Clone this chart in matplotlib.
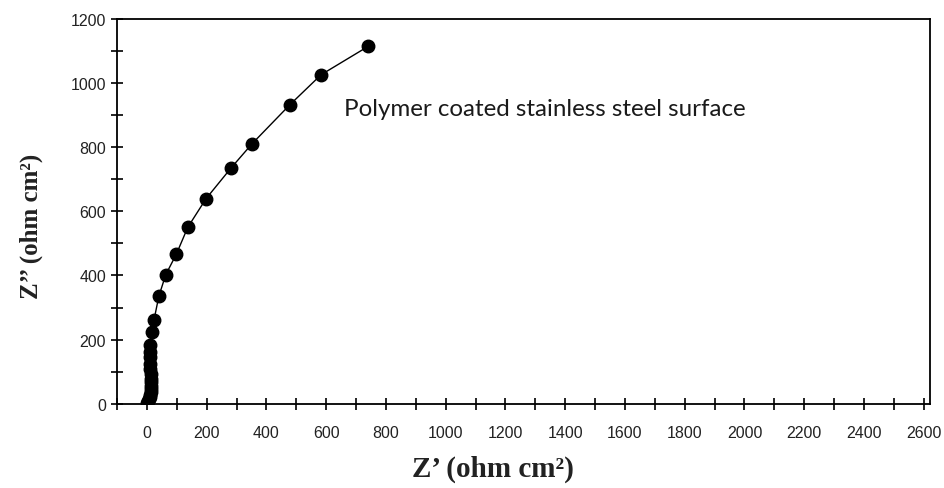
import matplotlib.pyplot as plt
from matplotlib.ticker import MultipleLocator

plt.rcParams['font.family'] = ['Liberation Sans', 'DejaVu Sans']

# Nyquist data (Z' , Z'')
z_real = [0, 3, 7, 10, 12, 13, 13, 14, 14, 14, 13, 12, 11, 10, 10,
          12, 18, 24, 40, 63, 99, 137, 198, 282, 352, 478, 583, 740]
z_imag = [3, 8, 14, 21, 29, 37, 46, 56, 67, 79, 93, 108, 125, 145, 162,
          184, 223, 262, 335, 402, 467, 550, 639, 735, 810, 931, 1025, 1113]

label_text = 'Polymer coated stainless steel surface'
x_ticks = list(range(0, 2601, 200))
y_ticks = list(range(0, 1201, 200))

fig = plt.figure(figsize=(9.45, 4.89), dpi=100)
ax = fig.add_axes([0.1238, 0.172, 0.860, 0.788])

ax.plot(z_real, z_imag, color='black', lw=1.0, marker='o',
        markersize=9, markerfacecolor='black', markeredgecolor='black')

ax.set_xlim(-100, 2620)
ax.set_ylim(0, 1200)
ax.set_xticks(x_ticks)
ax.set_yticks(y_ticks)
ax.xaxis.set_minor_locator(MultipleLocator(100))
ax.yaxis.set_minor_locator(MultipleLocator(100))
ax.tick_params(which='both', direction='inout', length=8, width=1.2,
               labelsize=11.5, labelcolor='#222222')
ax.tick_params(axis='x', pad=11)
ax.tick_params(axis='y', pad=4)
for sp in ax.spines.values():
    sp.set_linewidth(1.3)

ax.set_xlabel('Z\u2019 (ohm cm\u00b2)', fontsize=21, fontweight='bold',
              family='Liberation Serif', color='#222222', va='center')
ax.xaxis.set_label_coords(0.462, -0.168)
ax.set_ylabel('Z\u2019\u2019 (ohm cm\u00b2)', fontsize=18, fontweight='bold',
              family='Liberation Serif', color='#222222', va='center')
ax.yaxis.set_label_coords(-0.106, 0.464)

ax.text(660, 919, label_text, fontsize=17.4, family='Lato',
        color='#1a1a1a', va='center')

fig.savefig('out.png', dpi=100)
